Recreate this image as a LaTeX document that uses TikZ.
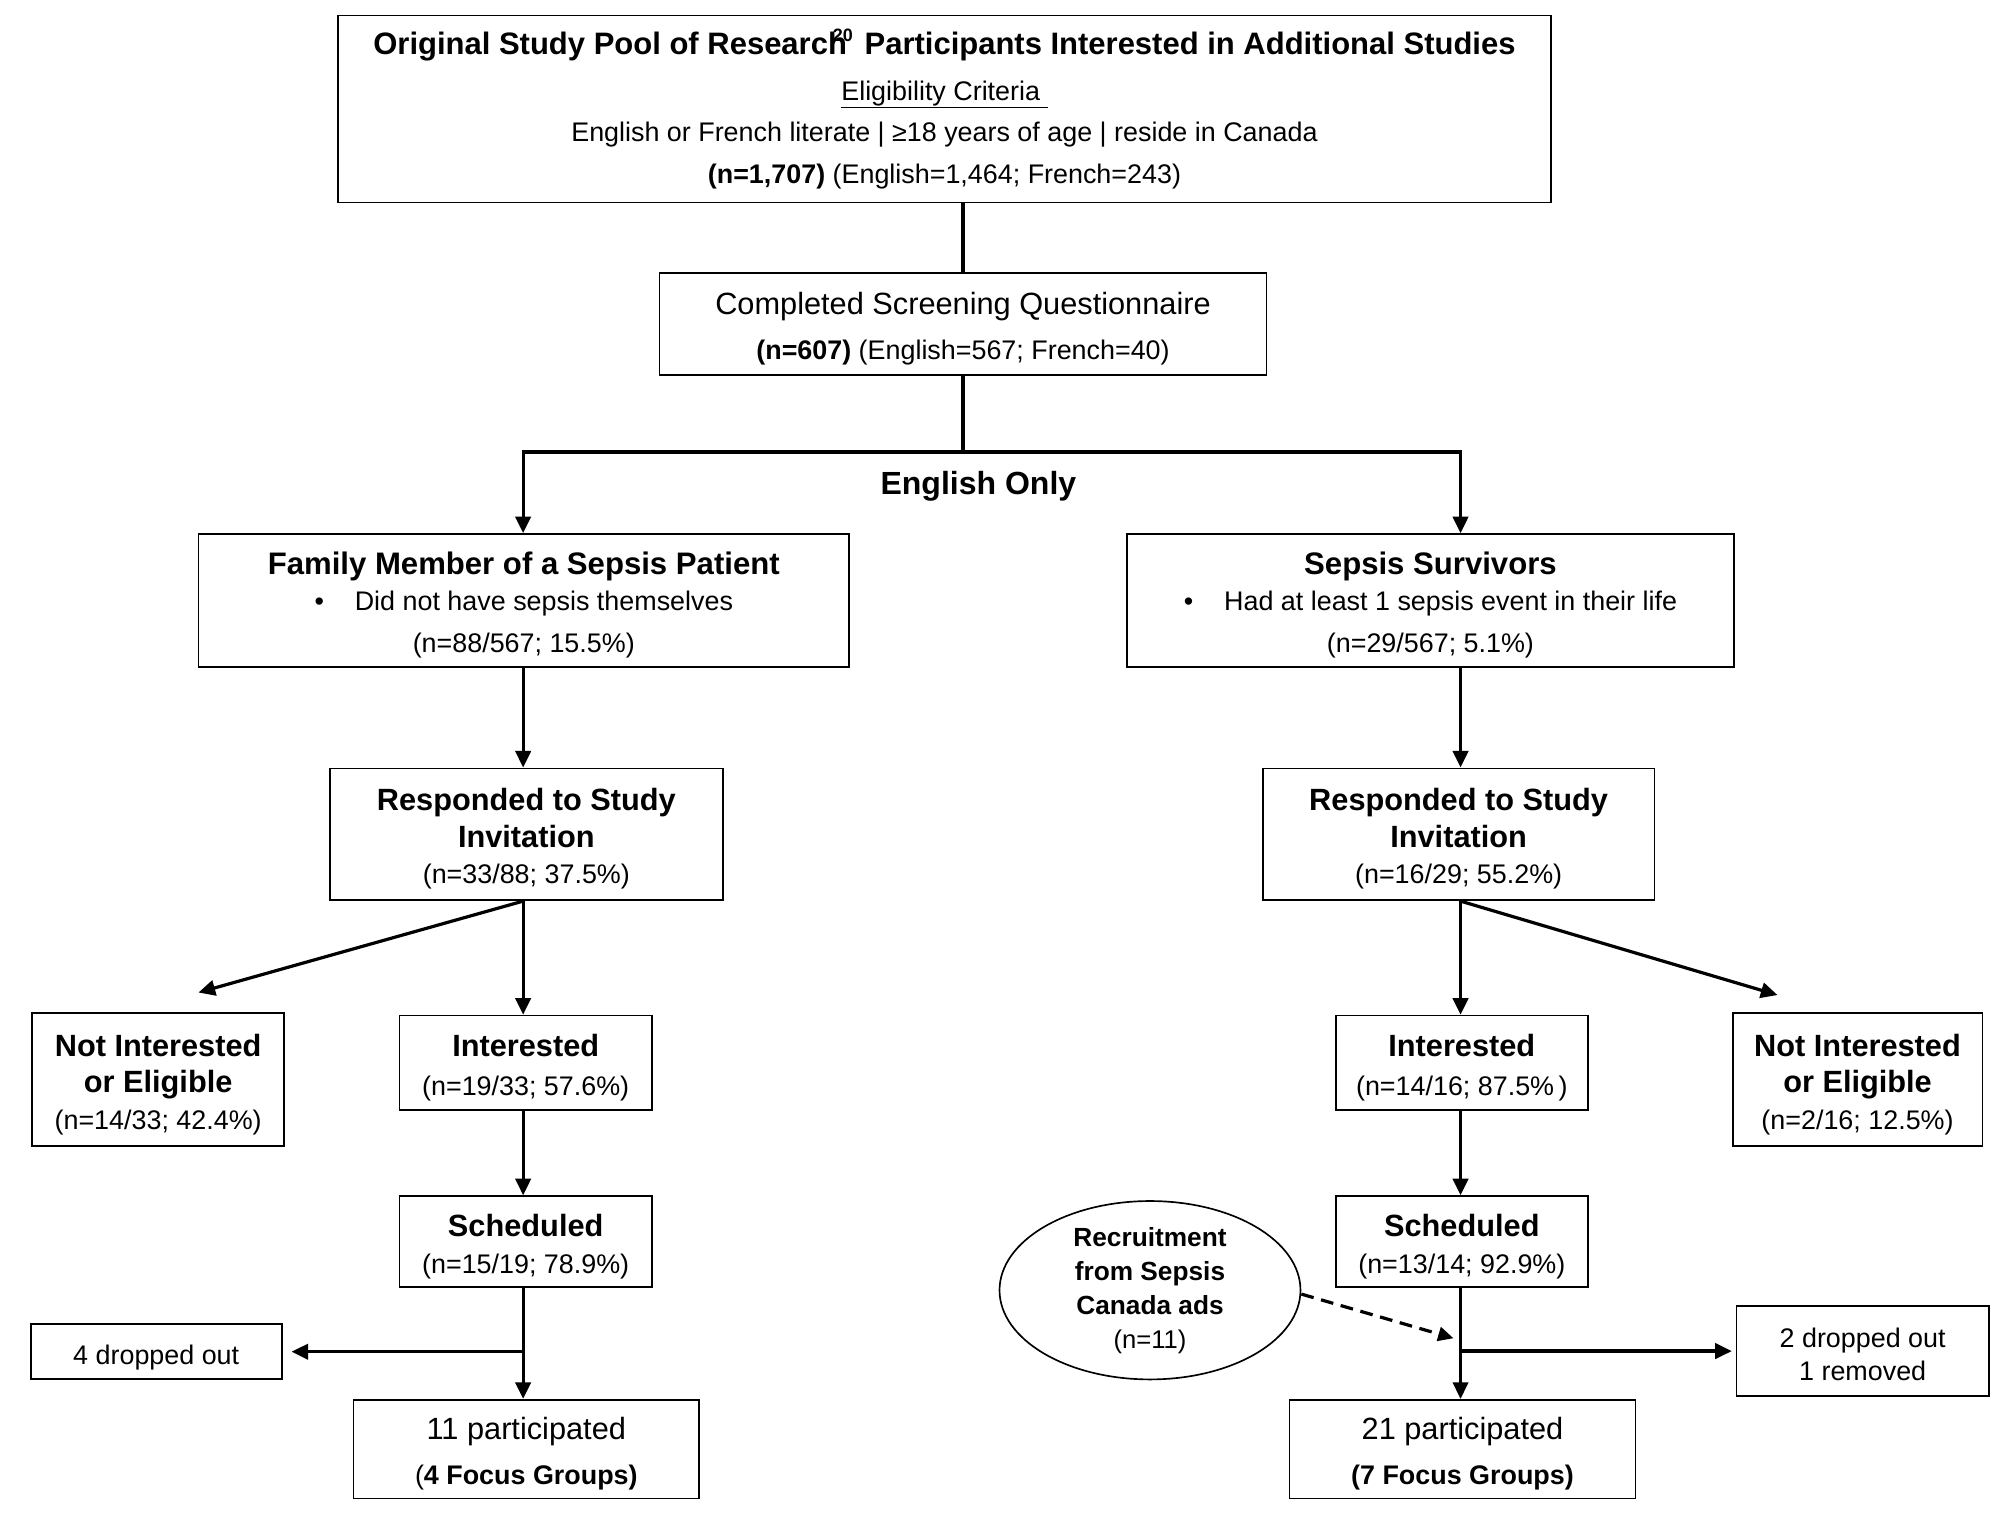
\documentclass[tikz,border=0pt]{standalone}
\usepackage{fontspec}
\setmainfont{Liberation Sans}
\usetikzlibrary{arrows.meta,shapes.geometric,calc}
\newcommand\fsz[2]{\fontsize{#1}{#2}\selectfont}
\newcommand\stA{\rule{0pt}{24.8pt}}
\newcommand\stB{\rule{0pt}{24pt}}
\begin{document}
\begin{tikzpicture}[x=1pt,y=-1pt,
  box/.style={draw, line width=1.3pt, inner sep=0pt, align=center},
  conn/.style={line width=2.5pt},
  arr/.style={conn, -{Triangle[width=12pt,length=13pt]}},
  dasharr/.style={line width=2.5pt, dash pattern=on 10pt off 6pt, -{Triangle[width=11pt,length=12pt]}},
]
\useasboundingbox (0,0) rectangle (1568,1181.4);

% top
\node[box, minimum width=947pt, minimum height=146pt, font=\fsz{21}{33}] (top) at (737.5,85)
 {{\bfseries\fsz{24.2}{33}Original Study Pool of Research\kern-0.45em\raisebox{0.42em}{\fsz{14}{14}20}\kern0.1em{} Participants Interested in Additional Studies}\\[3pt]
  \underline{Eligibility Criteria\ }\\[-1pt]
  English or French literate | ≥18 years of age | reside in Canada\\
  {\bfseries (n=1,707)} (English=1,464; French=243)};

\node[box, minimum width=474pt, minimum height=80pt, font=\fsz{21}{35}] (scr) at (752,253)
 {{\fsz{24}{35}\stA Completed Screening Questionnaire}\\
  {\bfseries (n=607)} (English=567; French=40)};

\node[font=\bfseries\fsz{25}{30}, inner sep=0pt] (eng) at (764,380) {English Only};

\node[box, minimum width=508pt, minimum height=104pt, font=\fsz{21}{28}] (fam) at (409,469)
 {{\bfseries\fsz{24.3}{28}\stA Family Member of a Sepsis Patient}\\
  \textbullet\hspace{1.15em}Did not have sepsis themselves\\[5pt]
  (n=88/567; 15.5\%)};

\node[box, minimum width=474pt, minimum height=104pt, font=\fsz{21}{28}] (surv) at (1117,469)
 {{\bfseries\fsz{24.3}{28}\stA Sepsis Survivors}\\
  \textbullet\hspace{1.15em}Had at least 1 sepsis event in their life\\[5pt]
  (n=29/567; 5.1\%)};

\node[box, minimum width=307pt, minimum height=103pt, font=\fsz{21}{28.5}] (respL) at (411,651.5)
 {{\bfseries\fsz{24}{28.5}\stA Responded to Study}\\
  {\bfseries\fsz{24}{28.5}Invitation}\\
  (n=33/88; 37.5\%)};

\node[box, minimum width=306pt, minimum height=103pt, font=\fsz{21}{28.5}] (respR) at (1139,651.5)
 {{\bfseries\fsz{24}{28.5}\stA Responded to Study}\\
  {\bfseries\fsz{24}{28.5}Invitation}\\
  (n=16/29; 55.2\%)};

\node[box, minimum width=197pt, minimum height=104pt, font=\fsz{21}{28.5}] (notL) at (123.5,843)
 {{\bfseries\fsz{24}{28.5}\stA Not Interested}\\
  {\bfseries\fsz{24}{28.5}or Eligible}\\
  (n=14/33; 42.4\%)};

\node[box, minimum width=197pt, minimum height=74pt, font=\fsz{21}{30}] (intL) at (410.5,830)
 {{\bfseries\fsz{24}{30}\stA Interested}\\(n=19/33; 57.6\%)};

\node[box, minimum width=197pt, minimum height=71pt, font=\fsz{21}{29}] (schL) at (410.5,969.5)
 {{\bfseries\fsz{24}{29}\stA Scheduled}\\(n=15/19; 78.9\%)};

\node[box, minimum width=196pt, minimum height=43pt, font=\fsz{21}{26}] (drop4) at (122,1055.5)
 {\stB 4 dropped out};

\node[box, minimum width=270pt, minimum height=77pt, font=\fsz{21}{35}] (partL) at (411,1131.5)
 {{\fsz{24}{35}\stA 11 participated}\\({\bfseries 4 Focus Groups)}};

\node[box, minimum width=195pt, minimum height=104pt, font=\fsz{21}{28.5}] (notR) at (1450.5,843)
 {{\bfseries\fsz{24}{28.5}\stA Not Interested}\\
  {\bfseries\fsz{24}{28.5}or Eligible}\\
  (n=2/16; 12.5\%)};

\node[box, minimum width=197pt, minimum height=74pt, font=\fsz{21}{30}] (intR) at (1141.5,830)
 {{\bfseries\fsz{24}{30}\stA Interested}\\(n=14/16; 87.5\%\,)};

\node[box, minimum width=197pt, minimum height=71pt, font=\fsz{21}{29}] (schR) at (1141.5,969.5)
 {{\bfseries\fsz{24}{29}\stA Scheduled}\\(n=13/14; 92.9\%)};

\node[box, ellipse, minimum width=235pt, minimum height=125pt, font=\fsz{20}{26.5}] (rec) at (898,1007.5)
 {{\bfseries\fsz{20.5}{26.5}Recruitment}\\
  {\bfseries\fsz{20.5}{26.5}from Sepsis}\\
  {\bfseries\fsz{20.5}{26.5}Canada ads}\\
  (n=11)};

\node[box, minimum width=197pt, minimum height=70pt, font=\fsz{21}{26}] (drop2) at (1454.5,1055)
 {\rule{0pt}{20pt}2 dropped out\\1 removed};

\node[box, minimum width=270pt, minimum height=77pt, font=\fsz{21}{35}] (partR) at (1142,1131.5)
 {{\fsz{24}{35}\stA 21 participated}\\{\bfseries (7 Focus Groups)}};

% helper coordinates
\coordinate (colL) at (408.5,0);
\coordinate (colR) at (1140.5,0);
\coordinate (split) at (752,353);
\coordinate (tipNL) at (155,775);
\coordinate (tipNR) at (1388,777);
\coordinate (dtip) at (1135,1045);

% connectors
\draw[conn] (scr.north |- top.south) -- (scr.north);
\draw[conn] (scr.south) -- (split);
\draw[arr] (split) -| (colL |- fam.north);
\draw[arr] (split) -| (colR |- surv.north);
\draw[arr] (colL |- fam.south) -- (colL |- respL.north);
\draw[arr] (colR |- surv.south) -- (colR |- respR.north);
\draw[arr] (colL |- respL.south) -- (colL |- intL.north);
\draw[arr] (colL |- respL.south) -- (tipNL);
\draw[arr] (colR |- respR.south) -- (colR |- intR.north);
\draw[arr] (colR |- respR.south) -- (tipNR);
\draw[arr] (colL |- intL.south) -- (colL |- schL.north);
\draw[arr] (colR |- intR.south) -- (colR |- schR.north);
\draw[arr] (colL |- schL.south) -- (colL |- partL.north);
\draw[arr] (colR |- schR.south) -- (colR |- partR.north);
\draw[arr, shorten >=7pt] (colL |- drop4.east) -- (drop4.east);
\draw[arr, shorten >=3pt] (colR |- drop2.west) -- (drop2.west);
\draw[dasharr] ($(rec.east)+(0,3)$) -- (dtip);
\end{tikzpicture}
\end{document}
